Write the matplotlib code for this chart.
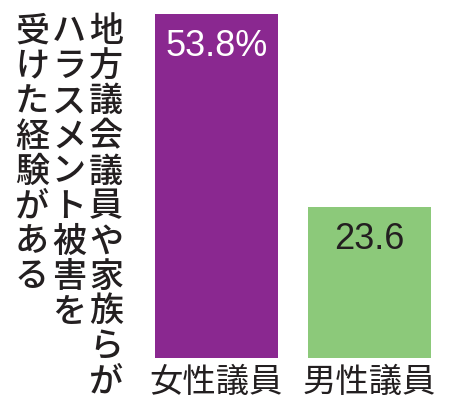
import matplotlib
matplotlib.use('Agg')
import matplotlib.pyplot as plt

plt.rcParams['font.family'] = ['Noto Sans CJK JP', 'DejaVu Sans']

# datos
categorias = ['女性議員', '男性議員']
valores = [53.8, 23.6]
etiquetas = ['53.8%', '23.6']
colores = ['#8a2890', '#8cc97a']
colores_texto = ['white', '#231f20']
titulo = ['地方議会議員や家族らが', 'ハラスメント被害を', '受けた経験がある']

fig = plt.figure(figsize=(4.5, 4.12), dpi=100)
ax = fig.add_axes([155 / 450, 1 - 358 / 412, 276 / 450, 344 / 412])

x = range(len(categorias))
ax.bar(x, valores, width=0.8, color=colores)
ax.set_xlim(-0.4, 1.4)
ax.set_ylim(0, max(valores))

for i, v in enumerate(valores):
    ax.annotate(etiquetas[i], (i, v), xytext=(0, -30), textcoords='offset points',
                ha='center', va='baseline', fontsize=26, color=colores_texto[i],
                family='Liberation Sans')

ax.set_xticks(list(x))
ax.set_xticklabels(categorias, fontsize=24, color='#231f20')
ax.tick_params(length=0, pad=5)
for s in ax.spines.values():
    s.set_visible(False)
ax.set_yticks([])

# texto vertical, columnas de derecha a izquierda
col_x = [106, 69, 32]
paso = 35
for c, linea in enumerate(titulo):
    for k, ch in enumerate(linea):
        y = 32 + k * paso
        fig.text(col_x[c] / 450, 1 - y / 412, ch, ha='center', va='center',
                 fontsize=24.5, color='#231f20', weight='medium')

fig.savefig('out.png', dpi=100)
